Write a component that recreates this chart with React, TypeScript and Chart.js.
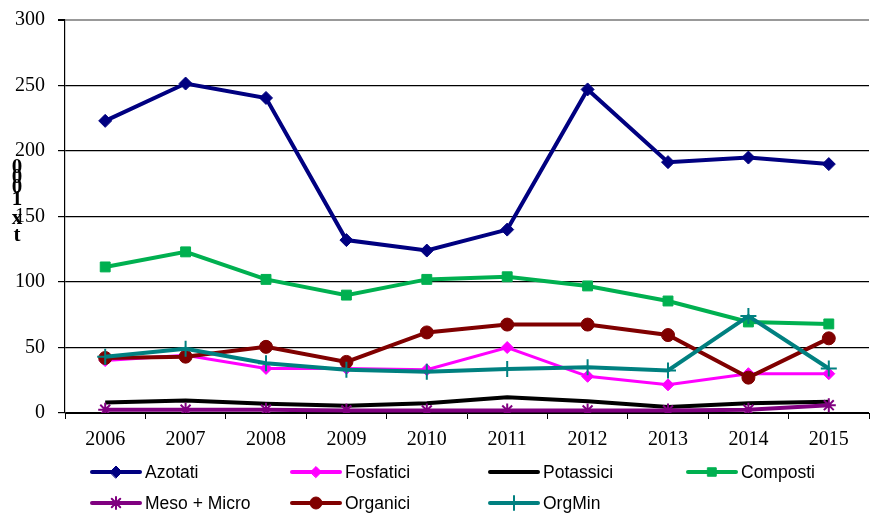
import React, { useEffect, useRef } from 'react';
import { Chart, registerables } from 'chart.js';
import { drawPoint } from 'chart.js/helpers';

Chart.register(...registerables);

const years = ['2006', '2007', '2008', '2009', '2010', '2011', '2012', '2013', '2014', '2015'];
const azotati = [223, 251.5, 240.5, 132, 124, 140, 247, 191.5, 195, 190];
const fosfatici = [40, 44, 34, 34, 33, 50, 28, 21.5, 30, 30];
const potassici = [8, 9.5, 7, 5.5, 7.5, 12, 9, 4.5, 7.5, 8.5];
const composti = [111.5, 123, 102, 90, 102, 104, 97, 85.5, 69.5, 68];
const mesoMicro = [2.5, 2.5, 2.5, 2, 2, 2, 2, 2, 2.5, 6];
const organici = [42, 43, 50.5, 39, 61.5, 67.5, 67.5, 59.5, 27, 57];
const orgMin = [43, 49, 38, 33, 31.5, 33.5, 35, 32.5, 74, 34];
const yMin = 0;
const yMax = 300;
const yStep = 50;
const yTitleChars = ['0', '0', '0', '1', 'x', 't'];

type Series = {
  label: string;
  data: number[];
  color: string;
  style: any;
  radius: number;
  lineWidth: number;
  pointBorderWidth: number;
  legendRadius: number;
};

const series: Series[] = [
  { label: 'Azotati', data: azotati, color: '#000080', style: 'rectRot', radius: 6.5, lineWidth: 4, pointBorderWidth: 1, legendRadius: 6 },
  { label: 'Fosfatici', data: fosfatici, color: '#FF00FF', style: 'rectRot', radius: 6, lineWidth: 3, pointBorderWidth: 1, legendRadius: 5.5 },
  { label: 'Potassici', data: potassici, color: '#000000', style: false, radius: 0, lineWidth: 4, pointBorderWidth: 0, legendRadius: 0 },
  { label: 'Composti', data: composti, color: '#00B050', style: 'rect', radius: 7, lineWidth: 4, pointBorderWidth: 1, legendRadius: 6 },
  { label: 'Meso + Micro', data: mesoMicro, color: '#800080', style: 'star', radius: 7, lineWidth: 4, pointBorderWidth: 2, legendRadius: 6 },
  { label: 'Organici', data: organici, color: '#800000', style: 'circle', radius: 6.5, lineWidth: 4, pointBorderWidth: 1, legendRadius: 6 },
  { label: 'OrgMin', data: orgMin, color: '#008080', style: 'cross', radius: 8, lineWidth: 4, pointBorderWidth: 2, legendRadius: 7 },
];

const legendCols = [92, 292, 490, 688];
const legendRows = [472, 503];
const legendSampleLen = 48;

const yTitlePlugin = {
  id: 'yTitle',
  afterDraw(chart: any) {
    const ctx = chart.ctx;
    ctx.save();
    ctx.fillStyle = '#000';
    ctx.font = 'bold 21px "Liberation Serif"';
    ctx.textAlign = 'center';
    ctx.textBaseline = 'middle';
    const ys = [168, 178, 188, 200, 219, 236];
    yTitleChars.forEach((c, i) => ctx.fillText(c, 17, ys[i]));
    ctx.restore();
  },
};

const legendPlugin = {
  id: 'customLegend',
  afterDraw(chart: any) {
    const ctx = chart.ctx;
    ctx.save();
    series.forEach((s, i) => {
      const col = i % 4;
      const row = Math.floor(i / 4);
      const x = legendCols[col];
      const y = legendRows[row];
      ctx.strokeStyle = s.color;
      ctx.lineWidth = 4;
      ctx.lineCap = 'round';
      ctx.beginPath();
      ctx.moveTo(x, y);
      ctx.lineTo(x + legendSampleLen, y);
      ctx.stroke();
      if (s.style) {
        ctx.fillStyle = s.color;
        ctx.strokeStyle = s.color;
        ctx.lineWidth = s.pointBorderWidth;
        drawPoint(ctx, { pointStyle: s.style, radius: s.legendRadius, rotation: 0, borderWidth: s.pointBorderWidth }, x + legendSampleLen / 2, y);
      }
      ctx.fillStyle = '#000';
      ctx.font = '17.5px "Liberation Sans"';
      ctx.textAlign = 'left';
      ctx.textBaseline = 'middle';
      ctx.fillText(s.label, x + legendSampleLen + 5, y + 1);
    });
    ctx.restore();
  },
};

export default function App() {
  const ref = useRef<HTMLCanvasElement | null>(null);
  useEffect(() => {
    if (!ref.current) return;
    const chart = new Chart(ref.current, {
      type: 'line',
      data: {
        labels: years,
        datasets: series.map((s, i) => ({
          label: s.label,
          data: s.data,
          borderColor: s.color,
          backgroundColor: s.color,
          borderWidth: s.lineWidth,
          pointStyle: s.style,
          pointRadius: s.radius,
          pointBorderWidth: s.pointBorderWidth,
          pointBackgroundColor: s.color,
          pointBorderColor: s.color,
          tension: 0,
          fill: false,
          order: series.length - i,
        })),
      },
      options: {
        animation: false,
        responsive: false,
        maintainAspectRatio: false,
        layout: { padding: { left: 0, top: 20, right: 0, bottom: 0 } },
        plugins: {
          legend: { display: false },
          tooltip: { enabled: false },
        },
        scales: {
          x: {
            type: 'category',
            offset: true,
            grid: {
              offset: true,
              drawOnChartArea: false,
              drawTicks: true,
              tickLength: 6,
              color: '#000',
              tickColor: '#000',
            },
            border: { color: '#000', width: 1 },
            ticks: {
              color: '#000',
              font: { family: '"Liberation Serif"', size: 20 },
              padding: 9,
              maxRotation: 0,
              autoSkip: false,
            },
            afterFit: (s: any) => {
              s.height = 101;
              s.paddingLeft = 0;
              s.paddingRight = 0;
            },
          },
          y: {
            min: yMin,
            max: yMax,
            grid: {
              drawTicks: true,
              tickLength: 7,
              color: (c: any) => (c.tick && c.tick.value === yMax ? '#999999' : '#000000'),
              lineWidth: (c: any) => (c.tick && c.tick.value === yMax ? 2 : 1.2),
              tickColor: '#000',
            },
            border: { color: '#000', width: 1.2 },
            ticks: {
              stepSize: yStep,
              color: '#000',
              font: { family: '"Liberation Serif"', size: 20 },
              padding: 13,
            },
            afterFit: (s: any) => {
              s.width = 65;
              s.paddingTop = 0;
              s.paddingBottom = 0;
            },
          },
        },
      },
      plugins: [yTitlePlugin, legendPlugin],
    });
    return () => chart.destroy();
  }, []);
  return (
    <div style={{ position: 'fixed', left: 0, top: 0, width: 873, height: 514, overflow: 'hidden', background: '#fff' }}>
      <canvas ref={ref} width={879} height={514} style={{ width: 879, height: 514, display: 'block' }} />
    </div>
  );
}
